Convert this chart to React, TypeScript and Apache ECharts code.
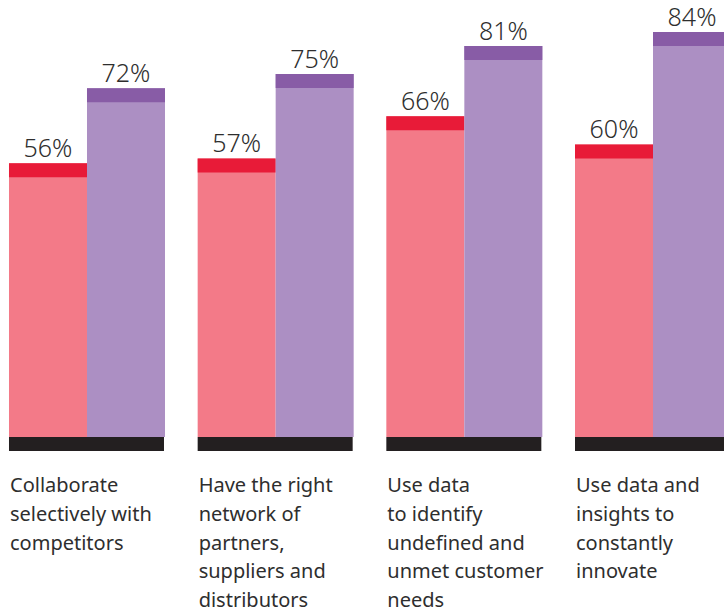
import React, { useEffect, useRef } from "react";
import * as echarts from "echarts";

const categories = [
  "Collaborate\nselectively with\ncompetitors",
  "Have the right\nnetwork of\npartners,\nsuppliers and\ndistributors",
  "Use data\nto identify\nundefined and\nunmet customer\nneeds",
  "Use data and\ninsights to\nconstantly\ninnovate",
];
const pinkValues = [56, 57, 66, 60];
const purpleValues = [72, 75, 81, 84];

const PINK = "#F37A88";
const RED = "#E81B38";
const PURPLE = "#AC8FC3";
const PURPLE_DARK = "#885CA6";
const BLACK = "#231F20";
const TEXT = "#2E2E2E";
const FONT = "'Noto Sans', 'Open Sans', sans-serif";

const BAR_W = 78;
const CAP_H = 14;
const BASE_H = 14;

export default function App() {
  const ref = useRef<HTMLDivElement>(null);
  useEffect(() => {
    if (!ref.current) return;
    const chart = echarts.init(ref.current, undefined, { renderer: "svg" });
    const data = categories.map((_, i) => [i, pinkValues[i], purpleValues[i]]);
    chart.setOption({
      animation: false,
      grid: { left: 0, right: 0, top: 0, bottom: 175 },
      xAxis: { type: "value", min: -0.4611, max: 3.3763, show: false },
      yAxis: { type: "value", min: -2.4, max: 90.8, show: false },
      series: [
        {
          type: "custom",
          clip: false,
          encode: { x: 0, y: [1, 2] },
          data,
          renderItem: (params: any, api: any) => {
            const i = api.value(0);
            const pv = api.value(1);
            const uv = api.value(2);
            const pTop = api.coord([i, pv]);
            const uTop = api.coord([i, uv]);
            const base = api.coord([i, -2.4]);
            const cx = pTop[0];
            const by = base[1];
            const pl = cx - BAR_W;
            const valueStyle = {
              fill: TEXT,
              fontSize: 25,
              lineHeight: 22,
              fontWeight: 300,
              fontFamily: FONT,
              align: "center",
              verticalAlign: "middle",
            };
            return {
              type: "group",
              children: [
                { type: "rect", shape: { x: pl, y: pTop[1], width: BAR_W, height: by - pTop[1] }, style: { fill: PINK } },
                { type: "rect", shape: { x: pl, y: pTop[1], width: BAR_W, height: CAP_H }, style: { fill: RED } },
                { type: "rect", shape: { x: cx, y: uTop[1], width: BAR_W, height: by - uTop[1] }, style: { fill: PURPLE } },
                { type: "rect", shape: { x: cx, y: uTop[1], width: BAR_W, height: CAP_H }, style: { fill: PURPLE_DARK } },
                { type: "rect", shape: { x: pl, y: by, width: BAR_W * 2 - 1, height: BASE_H }, style: { fill: BLACK } },
                { type: "text", x: pl + BAR_W / 2, y: pTop[1] - 16, style: { ...valueStyle, text: pv + "%" } },
                { type: "text", x: cx + BAR_W / 2, y: uTop[1] - 16, style: { ...valueStyle, text: uv + "%" } },
                {
                  type: "text",
                  x: pl + 1,
                  y: by + 33,
                  style: {
                    text: categories[params.dataIndex],
                    fill: TEXT,
                    fontSize: 20,
                    lineHeight: 28.8,
                    fontFamily: FONT,
                    align: "left",
                    verticalAlign: "top",
                  },
                },
              ],
            };
          },
        },
      ],
    });
    return () => chart.dispose();
  }, []);
  return (
    <div
      ref={ref}
      style={{ position: "fixed", left: 0, top: 0, width: 724, height: 612, background: "#fff" }}
    />
  );
}
